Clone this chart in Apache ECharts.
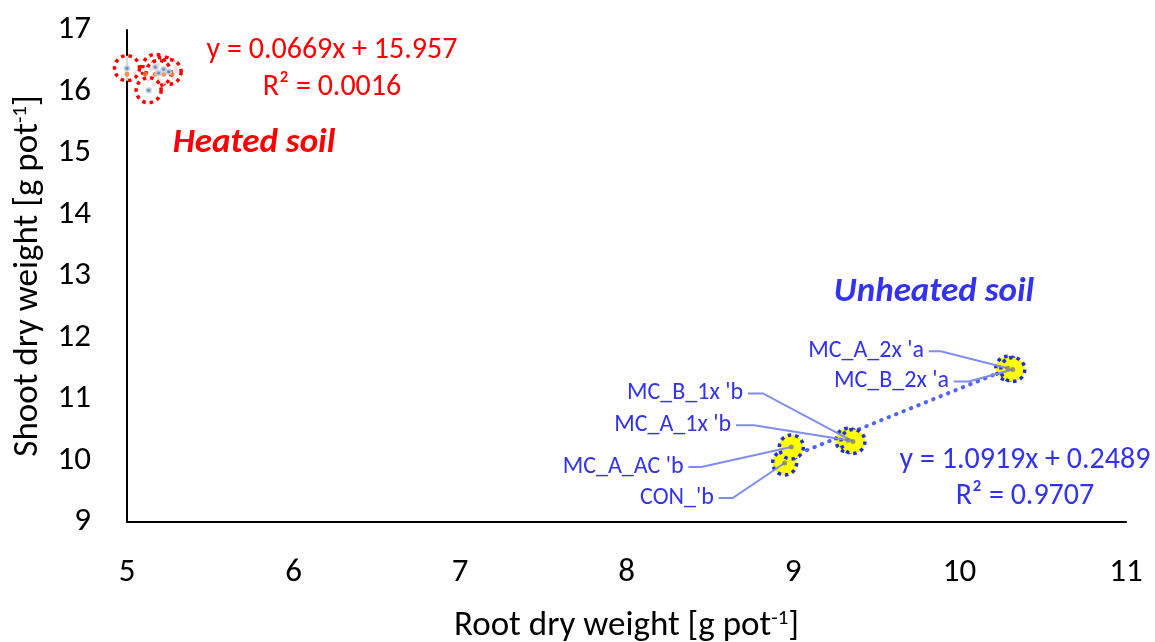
<!DOCTYPE html>
<html><head><meta charset="utf-8">
<script src="https://cdn.jsdelivr.net/npm/echarts/dist/echarts.min.js"></script>
<style>html,body{margin:0;padding:0;background:#fff}#c{width:1155px;height:642px}</style>
</head><body><div id="c"></div>
<script>
// ---- data ----
const xTicks = [5, 6, 7, 8, 9, 10, 11];
const yTicks = [9, 10, 11, 12, 13, 14, 15, 16, 17];
const heatedX = [5.00, 5.17, 5.22, 5.25, 5.19, 5.13];
const heatedY = [16.38, 16.40, 16.36, 16.32, 16.30, 16.02];
const heatedOrangeX = [5.00, 5.11, 5.17, 5.22, 5.27];
const heatedOrangeY = [16.28, 16.28, 16.28, 16.28, 16.28];
const unheatedNames = ["CON_'b", "MC_A_AC 'b", "MC_A_1x 'b", "MC_B_1x 'b", "MC_A_2x 'a", "MC_B_2x 'a"];
const unheatedX = [8.95, 8.99, 9.33, 9.36, 10.29, 10.32];
const unheatedY = [9.96, 10.22, 10.33, 10.31, 11.50, 11.48];
const heatedTrend = [0.0669, 15.957];   // slope, intercept (from chart)
const unheatedTrend = [1.0919, 0.2489];
const heatedEq = ["y = 0.0669x + 15.957", "R² = 0.0016"];
const unheatedEq = ["y = 1.0919x + 0.2489", "R² = 0.9707"];

// ---- helpers ----
const zip = (xs, ys) => xs.map((x, i) => [x, ys[i]]);
function trend(xs, c) {
  const a = Math.min(...xs), b = Math.max(...xs);
  return [[a, c[0] * a + c[1]], [b, c[0] * b + c[1]]];
}
const FONT = 'Carlito, Lato, "Open Sans", sans-serif';
const RED = '#ff0000', BLUE = '#3333ee';
const SYM = 24, LDIST = 5;

// label shifts (pixels) and leader-line horizontal run
const labelShift = [[-52, 35, 14], [-89, 20, 13], [-98, -15, 18], [-91, -48, 15], [-65, -17, 12], [-45, 12, 15]];

const chart = echarts.init(document.getElementById('c'), null, {renderer: 'canvas'});
const option = {
  animation: false,
  backgroundColor: '#fff',
  grid: {left: 127, right: 29, top: 30, bottom: 120, containLabel: false, outerBoundsMode: 'none'},
  xAxis: {
    type: 'value', min: xTicks[0], max: xTicks[xTicks.length - 1], interval: 1,
    axisLine: {show: true, onZero: false, lineStyle: {color: '#000', width: 2}},
    axisTick: {show: false}, splitLine: {show: false},
    axisLabel: {color: '#000', fontSize: 33, fontFamily: FONT, margin: 34},
    name: '{a|Root dry weight [g pot}{s|-1}{a|]}', nameLocation: 'middle', nameGap: 86,
    nameTextStyle: {rich: {a: {fontSize: 35, fontFamily: FONT, color: '#000'},
      s: {fontSize: 21, fontFamily: FONT, color: '#000', padding: [0, 0, 16, 0]}}}
  },
  yAxis: {
    type: 'value', min: yTicks[0], max: yTicks[yTicks.length - 1], interval: 1,
    axisLine: {show: true, onZero: false, lineStyle: {color: '#000', width: 2}},
    axisTick: {show: false}, splitLine: {show: false},
    axisLabel: {color: '#000', fontSize: 33, fontFamily: FONT, margin: 36},
    name: '{a|Shoot dry weight [g pot}{s|-1}{a|]}', nameLocation: 'middle', nameGap: 80,
    nameTextStyle: {rich: {a: {fontSize: 35, fontFamily: FONT, color: '#000'},
      s: {fontSize: 21, fontFamily: FONT, color: '#000', padding: [0, 0, 16, 0]}}}
  },
  graphic: [
    {type: 'text', style: {x: 332, y: 50, text: heatedEq[0], fill: RED, font: '30px ' + FONT, textAlign: 'center', textVerticalAlign: 'middle'}},
    {type: 'text', style: {x: 332, y: 87, text: heatedEq[1], fill: RED, font: '30px ' + FONT, textAlign: 'center', textVerticalAlign: 'middle'}},
    {type: 'text', style: {x: 254, y: 143, text: 'Heated soil', fill: RED, font: 'italic bold 35px ' + FONT, textAlign: 'center', textVerticalAlign: 'middle'}},
    {type: 'text', style: {x: 934, y: 292, text: 'Unheated soil', fill: BLUE, font: 'italic bold 35px ' + FONT, textAlign: 'center', textVerticalAlign: 'middle'}},
    {type: 'text', style: {x: 1025, y: 460, text: unheatedEq[0], fill: BLUE, font: '30px ' + FONT, textAlign: 'center', textVerticalAlign: 'middle'}},
    {type: 'text', style: {x: 1025, y: 496, text: unheatedEq[1], fill: BLUE, font: '30px ' + FONT, textAlign: 'center', textVerticalAlign: 'middle'}}
  ],
  series: [
    {type: 'line', data: trend(heatedX, heatedTrend), symbol: 'none', z: 1,
      lineStyle: {color: RED, width: 3, type: [0.5, 7], cap: 'round'}},
    {type: 'line', data: trend(unheatedX, unheatedTrend), symbol: 'none', z: 1,
      lineStyle: {color: '#5566ee', width: 4, type: [0.5, 7.5], cap: 'round'}},
    // leader lines from the data labels to their points
    {type: 'custom', z: 4, silent: true, data: zip(unheatedX, unheatedY),
      renderItem: function (params, api) {
        const c = api.coord([api.value(0), api.value(1)]);
        const o = labelShift[params.dataIndex];
        const rx = c[0] - SYM / 2 - LDIST + o[0] + 3;
        const ly = c[1] + o[1];
        return {type: 'polyline', shape: {points: [[rx, ly], [rx + o[2], ly], [c[0], c[1]]]},
          style: {stroke: '#7f8cf0', lineWidth: 2, fill: null}};
      }},
    {type: 'scatter', data: zip(heatedX, heatedY), symbolSize: 25, z: 2,
      itemStyle: {color: 'rgba(255,255,255,0.85)', borderColor: RED, borderWidth: 3.5, borderType: [3.5, 4], opacity: 1}},
    {type: 'scatter', data: zip(heatedOrangeX, heatedOrangeY), symbolSize: 5, z: 3,
      itemStyle: {color: '#ed7d31'}},
    {type: 'scatter', data: zip(heatedX, heatedY), symbolSize: 5, z: 4,
      itemStyle: {color: '#4472c4', borderColor: '#d0d4dc', borderWidth: 2}},
    {type: 'scatter', z: 3, symbolSize: SYM,
      data: unheatedX.map((x, i) => ({value: [x, unheatedY[i]], name: unheatedNames[i]})),
      itemStyle: {color: '#ffff00', borderColor: '#1f2fd8', borderWidth: 3.5, borderType: [3.5, 4], opacity: 1},
      label: {show: true, position: 'left', distance: LDIST, formatter: '{b}', color: BLUE, fontSize: 24, fontFamily: FONT},
      labelLayout: function (p) {
        const o = labelShift[p.dataIndex];
        return {dx: o[0], dy: o[1]};
      }
    },
    {type: 'scatter', data: zip(unheatedX, unheatedY), symbolSize: 5, z: 6,
      itemStyle: {color: '#808080'}}
  ]
};
chart.setOption(option);
</script></body></html>
